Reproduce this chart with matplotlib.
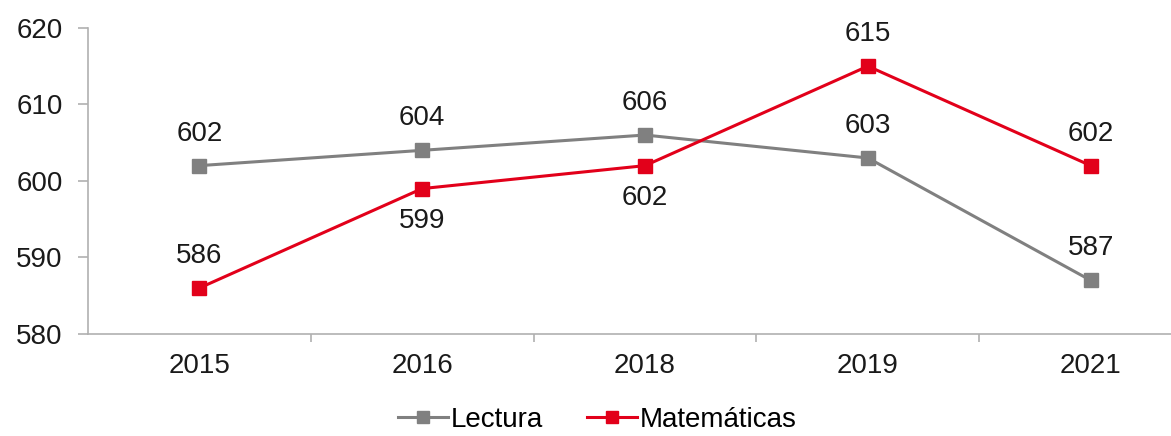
import matplotlib.pyplot as plt

plt.rcParams['font.family'] = ['Liberation Sans', 'DejaVu Sans']

years = ['2015', '2016', '2018', '2019', '2021']
lectura = [602, 604, 606, 603, 587]
matematicas = [586, 599, 602, 615, 602]
# label placement per point: 1 above, -1 below
lectura_pos = [1, 1, 1, 1, 1]
mate_pos = [1, -1, -1, 1, 1]

gray = '#808080'
red = '#e2001a'
txt = '#1a1a1a'

fig = plt.figure(figsize=(11.71, 4.36), dpi=100)
ax = fig.add_axes([0.075, 0.234, 0.925, 0.702])

x = list(range(len(years)))
ax.plot(x, lectura, color=gray, lw=2.2, marker='s', ms=10, label='Lectura')
ax.plot(x, matematicas, color=red, lw=2.2, marker='s', ms=10, label='Matemáticas')

for xs, vals, pos in [(x, lectura, lectura_pos), (x, matematicas, mate_pos)]:
    for xi, v, p in zip(xs, vals, pos):
        ax.annotate(str(v), (xi, v), xytext=(0, 23 * p), textcoords='offset points',
                    ha='center', va='center', fontsize=20, color=txt)

ax.set_ylim(580, 620)
ax.set_yticks([580, 590, 600, 610, 620])
ax.set_xlim(-0.5, 4.36)
ax.set_xticks(x)
ax.set_xticklabels(years)
ax.set_xticks([0.5, 1.5, 2.5, 3.5], minor=True)
ax.tick_params(axis='x', which='major', length=0, pad=14, labelsize=20, labelcolor=txt)
ax.tick_params(axis='x', which='minor', length=6, color='#b0b0b0', width=1.2)
ax.tick_params(axis='y', length=7, color='#b0b0b0', width=1.2, labelsize=20,
               labelcolor=txt, pad=11)

for s in ['top', 'right']:
    ax.spines[s].set_visible(False)
for s in ['left', 'bottom']:
    ax.spines[s].set_color('#b0b0b0')
    ax.spines[s].set_linewidth(1.2)

fig.legend(loc='lower center', bbox_to_anchor=(0.51, -0.05), ncol=2, frameon=False,
           fontsize=20, handlelength=1.8, handletextpad=0.1, columnspacing=1.6,
           markerscale=0.8)

fig.savefig('out.png', dpi=100)
